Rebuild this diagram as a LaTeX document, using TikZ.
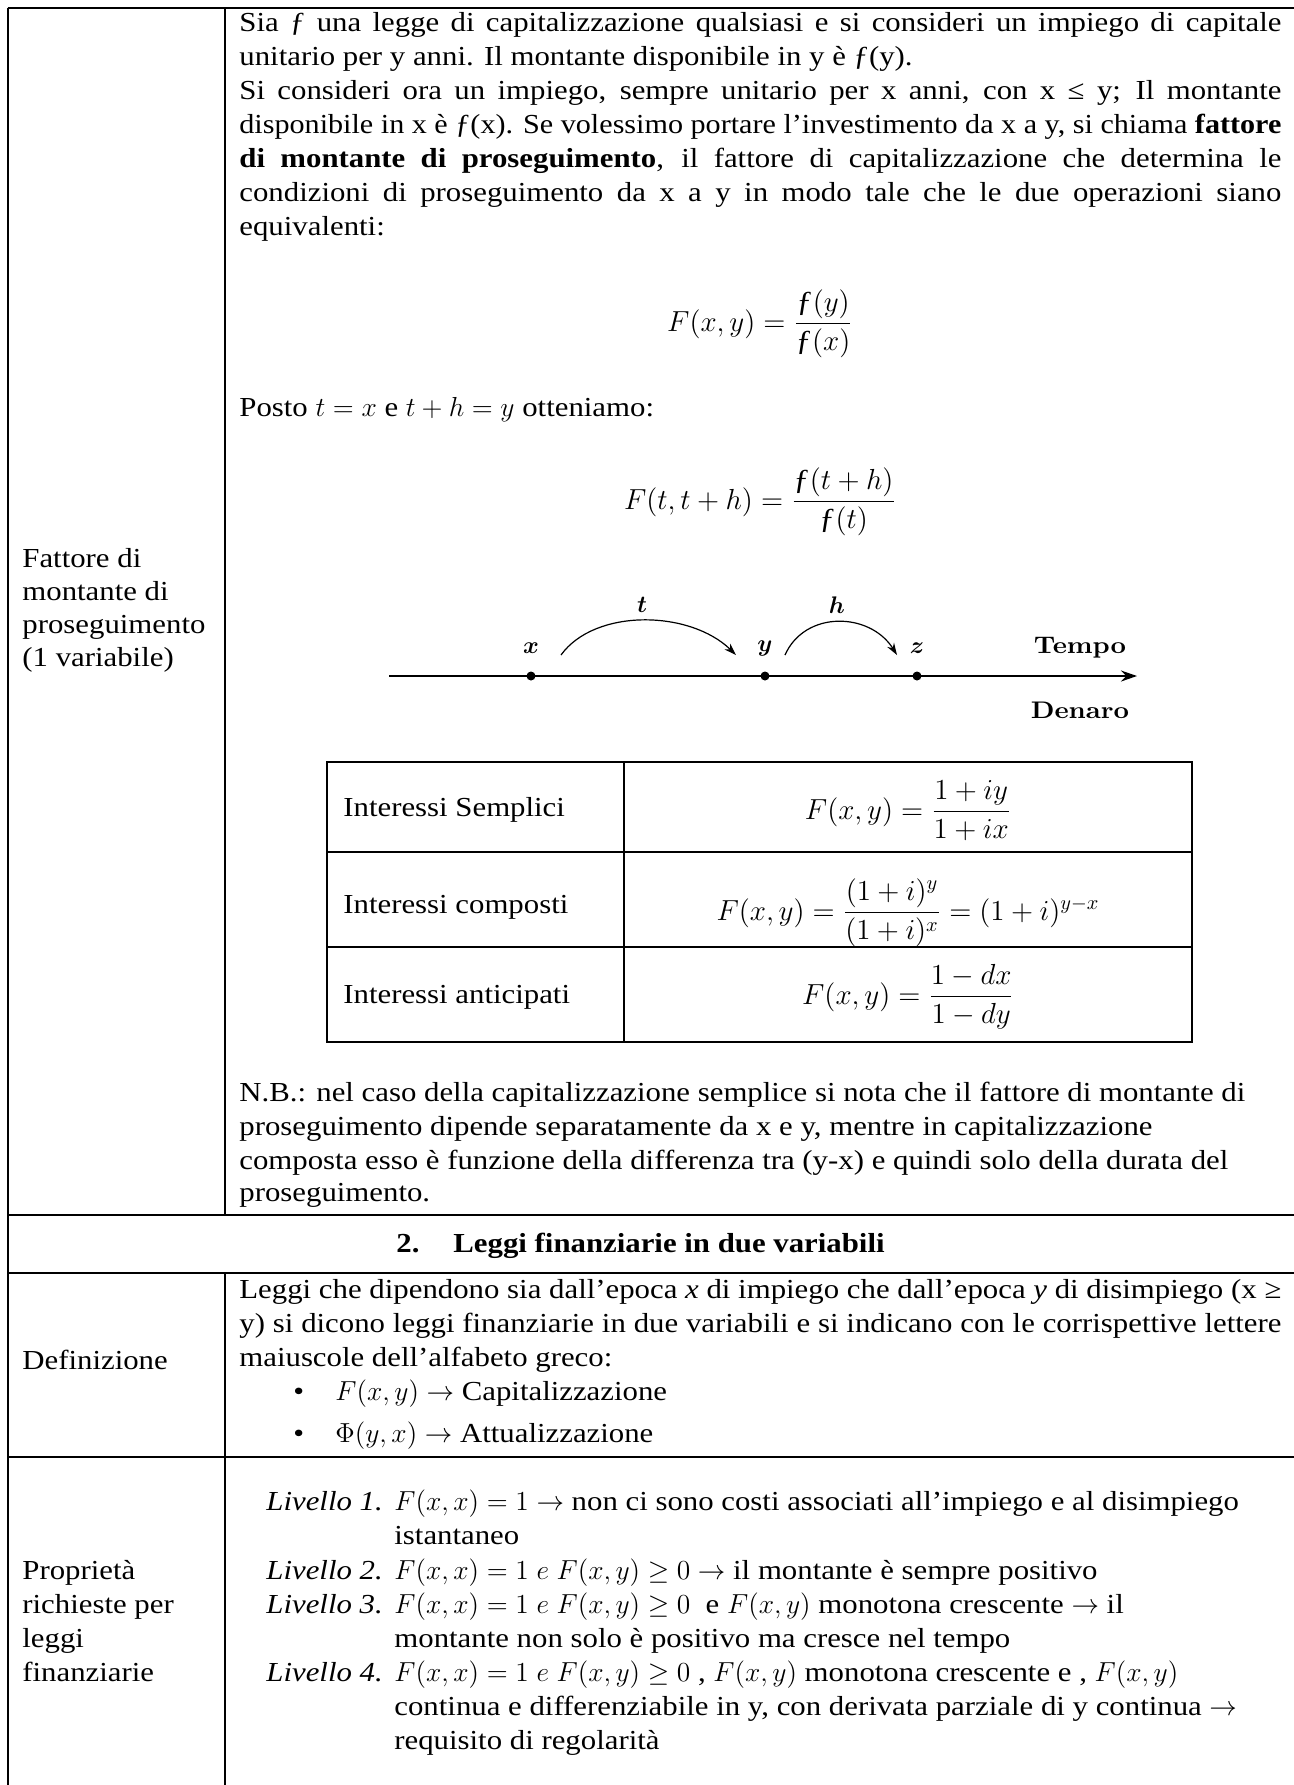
\RequirePackage{fix-cm}
\documentclass[tikz,border=0pt]{standalone}
\usepackage{amsmath}
\usepackage{graphicx}
\usepackage[no-math]{fontspec}
\setmainfont{Liberation Serif}[FakeStretch=1.12]
\newfontfamily\lmbf{lmroman10-bold.otf}
\usetikzlibrary{arrows.meta}
\newlength\jw
\newcommand\jl[2]{\settowidth{\jw}{#2}\ifdim\jw>#1\relax\resizebox{#1}{\height}{#2}\else\makebox[#1][s]{#2}\fi}
\newcommand\fnt{\fontsize{13.75pt}{16pt}\selectfont}
\newcommand\fmt{\fontsize{14.5pt}{17pt}\selectfont}
\newcommand\ff{\mbox{ƒ}}
\tikzset{
  tl/.style={anchor=base west, inner sep=0pt, font=\fnt},
  fm/.style={anchor=base, inner sep=0pt, font=\fmt},
  grid/.style={line width=1pt},
  tim/.style={inner sep=0pt, font=\lmbf\fontsize{12pt}{14pt}\selectfont},
  dotn/.style={circle, fill, inner sep=0pt, minimum size=4.5pt},
  axisline/.style={line width=0.8pt, -{Stealth[length=8pt,width=5.5pt]}},
  arcline/.style={line width=0.6pt, -{Stealth[length=6pt,width=4pt]}}
}
\begin{document}
\begin{tikzpicture}[x=0.5pt,y=-0.5pt]
\useasboundingbox (0,0) rectangle (1294,1785);
% outer table
\draw[grid] (7.5,7.5) -- (1300,7.5);
\draw[grid] (7.5,7.5) -- (7.5,1790);
\draw[grid] (225,7.5) -- (225,1215);
\draw[grid] (225,1273) -- (225,1790);
\draw[grid] (7.5,1215) -- (1300,1215);
\draw[grid] (7.5,1273) -- (1300,1273);
\draw[grid] (7.5,1457) -- (1300,1457);

% row 1 text
\node[tl] (p1) at (239,31) {\jl{521pt}{Sia ƒ una legge di capitalizzazione qualsiasi e si consideri un impiego di capitale}};
\node[tl] (p2) at (239,65) {unitario per y anni. Il montante disponibile in y è ƒ(y).};
\node[tl] (p3) at (239,99) {\jl{521pt}{Si consideri ora un impiego, sempre unitario per x anni, con x ≤ y; Il montante}};
\node[tl] (p4) at (239,133) {\jl{521pt}{disponibile in x è ƒ(x). Se volessimo portare l’investimento da x a y, si chiama \textbf{fattore}}};
\node[tl] (p5) at (239,167) {\jl{521pt}{\textbf{di montante di proseguimento}, il fattore di capitalizzazione che determina le}};
\node[tl] (p6) at (239,201) {\jl{521pt}{condizioni di proseguimento da x a y in modo tale che le due operazioni siano}};
\node[tl] (p7) at (239,235) {equivalenti:};

\node[fm] (f1) at (760,331) {$F(x,y)=\dfrac{\ff(y)}{\ff(x)}$};
\node[tl] (posto) at (239,416) {Posto $t=x$ e $t+h=y$ otteniamo:};
\node[fm] (f2) at (760,509) {$F(t,t+h)=\dfrac{\ff(t+h)}{\ff(t)}$};

\node[tl] (lab1) at (22,567) {Fattore di};
\node[tl] (lab2) at (22,600) {montante di};
\node[tl] (lab3) at (22,633) {proseguimento};
\node[tl] (lab4) at (22,666) {(1 variabile)};

% timeline
\coordinate (ax0) at (389,676);
\coordinate (ax1) at (1137,676);
\draw[axisline] (ax0) -- (ax1);
\node[dotn] (dx) at (531,676) {};
\node[dotn] (dy) at (765,676) {};
\node[dotn] (dz) at (917,676) {};
\node[tim] (lx) at (531,648) {$\boldsymbol{x}$};
\node[tim] (ly) at (765,648) {$\boldsymbol{y}$};
\node[tim] (lz) at (917,648) {$\boldsymbol{z}$};
\node[tim] (lt) at (642,605) {$\boldsymbol{t}$};
\node[tim] (lh) at (837,605) {$\boldsymbol{h}$};
\node[tim] (tempo) at (1080,648) {\scalebox{1.12}[1]{Tempo}};
\node[tim] (denaro) at (1080,710) {\scalebox{1.12}[1]{Denaro}};
\coordinate (a1s) at (561,655);
\coordinate (a1e) at (736,655);
\coordinate (a2s) at (785,655);
\coordinate (a2e) at (897,655);
\draw[arcline] (a1s) .. controls (595,608) and (690,610) .. (a1e);
\draw[arcline] (a2s) .. controls (805,610) and (870,612) .. (a2e);

% inner table
\draw[grid] (326.5,762) rectangle (1192,1042);
\draw[grid] (624,762) -- (624,1042);
\draw[grid] (326.5,852) -- (1192,852);
\draw[grid] (326.5,947) -- (1192,947);
\node[tl] (is) at (343,816) {Interessi Semplici};
\node[tl] (ic) at (343,913) {Interessi composti};
\node[tl] (ia) at (343,1003) {Interessi anticipati};
\node[fm] (fs) at (908,819) {$F(x,y)=\dfrac{1+iy}{1+ix}$};
\node[fm] (fc) at (908,920) {$F(x,y)=\dfrac{(1+i)^y}{(1+i)^x}=(1+i)^{y-x}$};
\node[fm] (fa) at (908,1004) {$F(x,y)=\dfrac{1-dx}{1-dy}$};

% N.B.
\node[tl] (nb1) at (239,1101) {N.B.: nel caso della capitalizzazione semplice si nota che il fattore di montante di};
\node[tl] (nb2) at (239,1135) {proseguimento dipende separatamente da x e y, mentre in capitalizzazione};
\node[tl] (nb3) at (239,1169) {composta esso è funzione della differenza tra (y-x) e quindi solo della durata del};
\node[tl] (nb4) at (239,1201) {proseguimento.};

% section header
\node[tl] (h2n) at (396,1252) {\textbf{2.}};
\node[tl] (h2) at (453,1252) {\textbf{Leggi finanziarie in due variabili}};

% Definizione
\node[tl] (def) at (22,1369) {Definizione};
\node[tl] (d1) at (239,1298) {\jl{521pt}{Leggi che dipendono sia dall’epoca \textit{x} di impiego che dall’epoca \textit{y} di disimpiego (x ≥}};
\node[tl] (d2) at (239,1332) {\jl{521pt}{y) si dicono leggi finanziarie in due variabili e si indicano con le corrispettive lettere}};
\node[tl] (d3) at (239,1366) {maiuscole dell’alfabeto greco:};
\node[tl] (b1) at (293,1400) {•};
\node[tl] (b1t) at (335,1400) {$F(x,y)\rightarrow$ Capitalizzazione};
\node[tl] (b2) at (293,1442) {•};
\node[tl] (b2t) at (335,1442) {$\Phi(y,x)\rightarrow$ Attualizzazione};

% Proprieta
\node[tl] (pr1) at (22,1579) {Proprietà};
\node[tl] (pr2) at (22,1613) {richieste per};
\node[tl] (pr3) at (22,1647) {leggi};
\node[tl] (pr4) at (22,1681) {finanziarie};

\node[tl] (lv1) at (266,1510) {\textit{Livello 1.}};
\node[tl] (lv1t) at (394,1510) {$F(x,x)=1\rightarrow$ non ci sono costi associati all’impiego e al disimpiego};
\node[tl] (lv1b) at (394,1544) {istantaneo};
\node[tl] (lv2) at (266,1579) {\textit{Livello 2.}};
\node[tl] (lv2t) at (394,1579) {$F(x,x)=1\;e\;F(x,y)\geq 0\rightarrow$ il montante è sempre positivo};
\node[tl] (lv3) at (266,1613) {\textit{Livello 3.}};
\node[tl] (lv3t) at (394,1613) {$F(x,x)=1\;e\;F(x,y)\geq 0$\ \ e $F(x,y)$ monotona crescente $\rightarrow$ il};
\node[tl] (lv3b) at (394,1647) {montante non solo è positivo ma cresce nel tempo};
\node[tl] (lv4) at (266,1681) {\textit{Livello 4.}};
\node[tl] (lv4t) at (394,1681) {$F(x,x)=1\;e\;F(x,y)\geq 0$ , $F(x,y)$ monotona crescente e , $F(x,y)$};
\node[tl] (lv4b) at (394,1715) {continua e differenziabile in y, con derivata parziale di y continua $\rightarrow$};
\node[tl] (lv4c) at (394,1749) {requisito di regolarità};
\end{tikzpicture}
\end{document}
